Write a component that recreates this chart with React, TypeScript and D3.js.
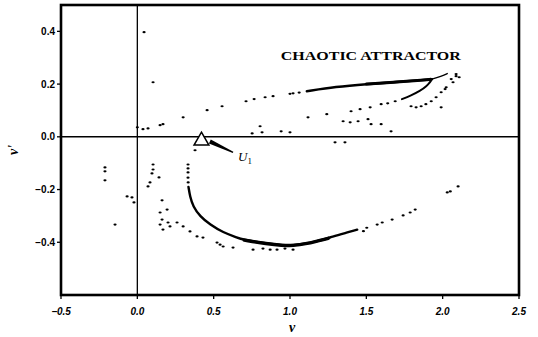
import React from "react";
import * as d3 from "d3";

// axis ticks
const xTicks = [-0.5, 0, 0.5, 1.0, 1.5, 2.0, 2.5];
const yTicks = [-0.4, -0.2, 0, 0.2, 0.4];

// dense parts of the attractor (drawn as thick strokes)
const upperBand: [number, number][] = [
  [1.11, 0.173], [1.3, 0.19], [1.5, 0.2], [1.7, 0.208], [1.88, 0.216], [1.93, 0.219],
];
const upperCore: [number, number][] = [[1.5, 0.2], [1.7, 0.208], [1.88, 0.216], [1.92, 0.218]];
const upperTip: [number, number][] = [[1.93, 0.219], [1.99, 0.229], [2.03, 0.24]];
const innerCurl: [number, number][] = [
  [1.93, 0.219], [1.915, 0.205], [1.896, 0.193], [1.853, 0.174], [1.787, 0.155], [1.733, 0.143],
];
const lowerBand: [number, number][] = [
  [0.335, -0.19], [0.345, -0.226], [0.365, -0.264], [0.411, -0.302], [0.476, -0.333],
  [0.562, -0.363], [0.653, -0.382], [0.693, -0.39], [0.804, -0.401], [0.915, -0.409],
  [0.981, -0.413], [1.066, -0.409], [1.178, -0.397], [1.282, -0.378], [1.374, -0.363], [1.44, -0.352],
];
const lowerCore: [number, number][] = [
  [0.7, -0.392], [0.85, -0.406], [0.95, -0.412], [1.02, -0.413], [1.1, -0.407], [1.25, -0.385],
];

// scattered iterates
const upperDots: [number, number][] = [
  [0.0, 0.036], [0.037, 0.029], [0.07, 0.032], [0.149, 0.044], [0.168, 0.048], [0.3, 0.074],
  [0.457, 0.101], [0.555, 0.116], [0.712, 0.135], [0.765, 0.143], [0.837, 0.15], [0.889, 0.154],
  [1.0, 0.163], [1.02, 0.165], [1.06, 0.168],
  [1.689, 0.135], [1.64, 0.127], [1.597, 0.124], [1.525, 0.112], [1.459, 0.105], [1.4, 0.097],
  [2.056, 0.219], [2.088, 0.23], [2.068, 0.207], [2.023, 0.188], [1.99, 0.169], [2.016, 0.181],
  [2.088, 0.238], [2.108, 0.226],
  [1.793, 0.116], [1.826, 0.112], [1.859, 0.116], [1.89, 0.124], [1.925, 0.135], [1.957, 0.15], [1.99, 0.112],
  [1.118, 0.074], [1.241, 0.086], [1.348, 0.059], [1.394, 0.055], [1.446, 0.059], [1.511, 0.067],
  [1.531, 0.048], [1.597, 0.048], [1.662, 0.021],
  [0.942, 0.021], [1.0, 0.017], [0.804, 0.04], [0.817, 0.017], [0.752, 0.013],
  [0.044, 0.397], [0.103, 0.207],
];
const lowerDots: [number, number][] = [
  [1.295, -0.021], [1.36, -0.021], [0.378, -0.051],
  [0.332, -0.105], [0.332, -0.12], [0.332, -0.135], [0.332, -0.155], [0.333, -0.173],
  [1.481, -0.358], [1.503, -0.345], [1.571, -0.333], [1.604, -0.325], [1.669, -0.314],
  [1.741, -0.298], [1.787, -0.287], [1.82, -0.276], [2.03, -0.211], [2.05, -0.207], [2.101, -0.188],
  [0.391, -0.378], [0.43, -0.382], [0.522, -0.401], [0.542, -0.409], [0.562, -0.416], [0.627, -0.42],
  [0.758, -0.428], [0.823, -0.424], [0.87, -0.428], [0.915, -0.428], [0.967, -0.424], [1.02, -0.428],
  [-0.212, -0.116], [-0.212, -0.131], [-0.212, -0.165], [-0.146, -0.333],
  [-0.067, -0.226], [-0.035, -0.23], [-0.022, -0.249],
  [0.103, -0.105], [0.103, -0.124], [0.096, -0.139], [0.142, -0.154], [0.083, -0.173], [0.07, -0.188],
  [0.162, -0.241], [0.195, -0.276], [0.149, -0.287], [0.162, -0.314], [0.149, -0.333], [0.168, -0.352],
  [0.214, -0.34], [0.201, -0.325], [0.26, -0.325], [0.3, -0.34], [0.345, -0.359],
];

// fixed point U1 and its pointer
const fixedPoint: [number, number] = [0.42, -0.015];
const arrowFrom: [number, number] = [0.627, -0.059];
const arrowTo: [number, number] = [0.475, -0.018];

export default function App() {
  const W = 538, H = 337;
  const margin = { top: 5, right: 19, bottom: 42, left: 61 };

  const x = d3.scaleLinear().domain([-0.5, 2.5]).range([margin.left, W - margin.right]);
  const y = d3.scaleLinear().domain([-0.6, 0.5]).range([H - margin.bottom, margin.top]);
  const fmt = d3.format(".1f");

  const line = d3.line<[number, number]>().x(d => x(d[0])).y(d => y(d[1])).curve(d3.curveBasis);

  const tri = d3.symbol(d3.symbolTriangle, 95)();

  // tapered arrow: wide at the triangle, thin at the tail
  const ax0 = x(arrowFrom[0]), ay0 = y(arrowFrom[1]);
  const ax1 = x(arrowTo[0]), ay1 = y(arrowTo[1]);
  const len = Math.hypot(ax1 - ax0, ay1 - ay0);
  const nx = -(ay1 - ay0) / len, ny = (ax1 - ax0) / len;
  const arrow = `M${ax0 + nx * 0.7},${ay0 + ny * 0.7} L${ax1 + nx * 2.2},${ay1 + ny * 2.2} L${ax1 - nx * 2.2},${ay1 - ny * 2.2} L${ax0 - nx * 0.7},${ay0 - ny * 0.7} Z`;

  const tickFont = "'Liberation Sans', Arial, sans-serif";
  const serif = "'Liberation Serif', 'DejaVu Serif', serif";

  return (
    <svg width={W} height={H} style={{ position: "absolute", left: 0, top: 0, background: "#fff" }}>
      {/* zero lines */}
      <line x1={x(0)} x2={x(0)} y1={y(0.5)} y2={y(-0.6)} stroke="#000" strokeWidth={1.3} />
      <line x1={x(-0.5)} x2={x(2.5)} y1={y(0)} y2={y(0)} stroke="#000" strokeWidth={1.5} />

      {/* attractor */}
      <g fill="none" stroke="#000" strokeLinecap="round">
        <path d={line(upperBand) || ""} strokeWidth={2.4} />
        <path d={line(upperCore) || ""} strokeWidth={3.0} />
        <path d={line(upperTip) || ""} strokeWidth={1.4} />
        <path d={line(innerCurl) || ""} strokeWidth={2} />
        <path d={line(lowerBand) || ""} strokeWidth={2.4} />
        <path d={line(lowerCore) || ""} strokeWidth={3.4} />
      </g>
      <g fill="#000">
        {upperDots.concat(lowerDots).map((d, i) => (
          <ellipse key={i} cx={x(d[0])} cy={y(d[1])} rx={1.6} ry={1.1} />
        ))}
      </g>

      {/* U1 */}
      <path d={tri || ""} transform={`translate(${x(fixedPoint[0])},${y(fixedPoint[1])})`}
        fill="#fff" stroke="#000" strokeWidth={1.5} />
      <path d={arrow} fill="#000" />
      <text x={x(0.66)} y={y(-0.09)} fill="#000" fontFamily={serif} fontStyle="italic" fontSize={13}>
        U<tspan fontSize={9} dy={3} fontStyle="normal">1</tspan>
      </text>

      <text x={x(0.94)} y={y(0.292)} fill="#000" fontFamily={serif} fontWeight="bold" fontSize={12.5}
        textLength={180} lengthAdjust="spacingAndGlyphs">CHAOTIC ATTRACTOR</text>

      {/* frame */}
      <rect x={x(-0.5)} y={y(0.5)} width={x(2.5) - x(-0.5)} height={y(-0.6) - y(0.5)}
        fill="none" stroke="#000" strokeWidth={2.6} />

      {/* y axis ticks */}
      {yTicks.map(t => (
        <g key={"y" + t}>
          <line x1={x(-0.5) - 4} x2={x(-0.5)} y1={y(t)} y2={y(t)} stroke="#000" strokeWidth={1.3} />
          <text x={x(-0.5) - 6} y={y(t)} dy="0.35em" textAnchor="end" fill="#000" fontFamily={tickFont}
            fontWeight="bold" fontSize={10}>{fmt(t)}</text>
        </g>
      ))}
      {/* x axis ticks */}
      {xTicks.map(t => (
        <g key={"x" + t}>
          <line x1={x(t)} x2={x(t)} y1={y(-0.6)} y2={y(-0.6) + 4} stroke="#000" strokeWidth={1.3} />
          <text x={x(t)} y={y(-0.6) + 20} textAnchor="middle" fill="#000" fontFamily={tickFont}
            fontWeight="bold" fontStyle="italic" fontSize={10}>{fmt(t)}</text>
        </g>
      ))}

      {/* axis titles */}
      <text x={292} y={332} textAnchor="middle" fill="#000" fontFamily={serif} fontStyle="italic"
        fontWeight="bold" fontSize={14}>v</text>
      <text transform="translate(18,150) rotate(-90)" textAnchor="middle" fill="#000" fontFamily={serif}
        fontStyle="italic" fontWeight="bold" fontSize={14}>v'</text>
    </svg>
  );
}
